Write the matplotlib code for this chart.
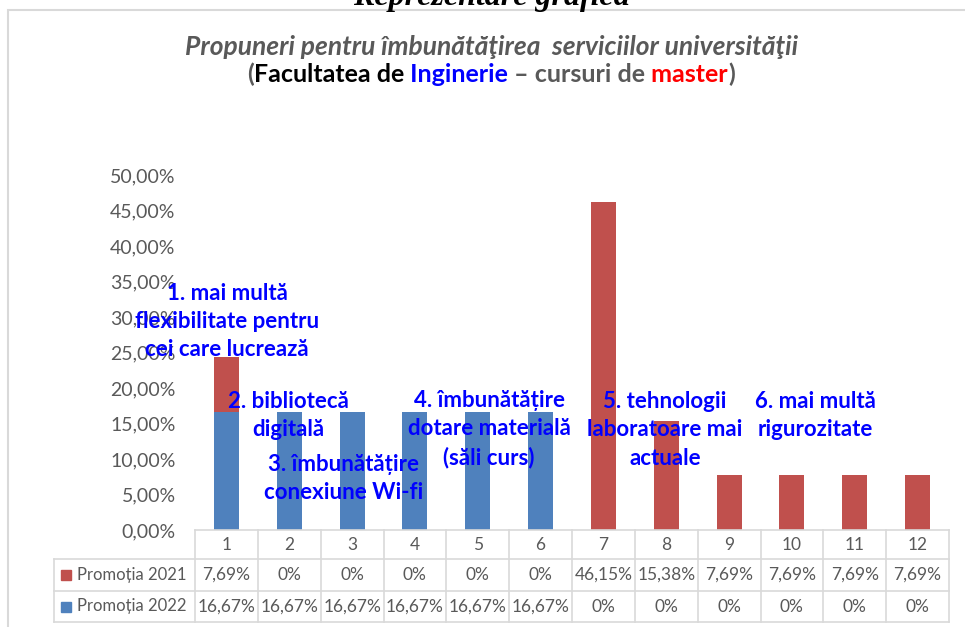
import numpy as np
import matplotlib
matplotlib.use('Agg')
import matplotlib.pyplot as plt
from matplotlib.patches import Rectangle
from matplotlib.transforms import blended_transform_factory

# ---- date ----
categories = ['1', '2', '3', '4', '5', '6', '7', '8', '9', '10', '11', '12']
prom_2021 = [7.69, 0, 0, 0, 0, 0, 46.15, 15.38, 7.69, 7.69, 7.69, 7.69]
prom_2022 = [16.67, 16.67, 16.67, 16.67, 16.67, 16.67, 0, 0, 0, 0, 0, 0]
series_names = ['Promoția 2021', 'Promoția 2022']
yticks = [0, 5, 10, 15, 20, 25, 30, 35, 40, 45, 50]

notes = [
    '1. mai multă\nflexibilitate pentru\ncei care lucrează',
    '2. bibliotecă\ndigitală',
    '3. îmbunătățire\nconexiune Wi-fi',
    '4. îmbunătățire\ndotare materială\n(săli curs)',
    '5. tehnologii\nlaboratoare mai\nactuale',
    '6. mai multă\nrigurozitate',
]
note_pos = [(0.01, 29.4), (0.98, 16.1), (1.87, 7.2), (4.18, 14.2), (6.98, 14.1), (9.37, 16.1)]

BLUE = '#4F81BD'
RED = '#C0504D'
GRAY = '#595959'
LINE = '#D9D9D9'

plt.rcParams['font.family'] = ['Lato', 'DejaVu Sans']

W, H = 965, 627
def fx(px): return px / W
def fy(py): return 1 - py / H

fig = plt.figure(figsize=(W / 100, H / 100), dpi=100)

# chenar grafic
fig.patches.append(Rectangle((fx(8), fy(640)), 1.2, fy(10) - fy(640), transform=fig.transFigure,
                             fill=False, edgecolor=LINE, lw=1.5))

ax = fig.add_axes([fx(195), fy(530), fx(949) - fx(195), fy(175) - fy(530)])
x = np.arange(len(categories))
ax.bar(x, prom_2022, width=0.4, color=BLUE, zorder=2)
ax.bar(x, prom_2021, width=0.4, bottom=prom_2022, color=RED, zorder=2)
ax.set_xlim(-0.5, len(categories) - 0.5)
ax.set_ylim(0, 50)
ax.set_yticks(yticks)
ax.set_yticklabels([f"{v:.2f}%".replace('.', ',') for v in yticks], color=GRAY, fontsize=14)
ax.set_xticks([])
ax.tick_params(axis='y', length=0, pad=14)
for s in ax.spines.values():
    s.set_visible(False)

# ---- tabel de date ----
tr = blended_transform_factory(ax.transData, ax.transAxes)
ax_h = 530 - 175
r = [0, -(559 - 530) / ax_h, -(591 - 530) / ax_h, -(622 - 530) / ax_h]
colw = (949 - 195) / len(categories)
x_left = -0.5 - (195 - 54) / colw
xr = len(categories) - 0.5
kw = dict(color=LINE, lw=1.2, transform=tr, clip_on=False)
ax.plot([-0.5, xr], [r[0], r[0]], **kw)
for yy in r[1:]:
    ax.plot([x_left, xr], [yy, yy], **kw)
for i in range(len(categories) + 1):
    ax.plot([i - 0.5, i - 0.5], [r[0], r[3]], **kw)
ax.plot([x_left, x_left], [r[1], r[3]], **kw)

def fmt(v):
    return '0%' if v == 0 else f"{v:.2f}%".replace('.', ',')

for i, c in enumerate(categories):
    ax.text(i, (r[0] + r[1]) / 2, c, transform=tr, ha='center', va='center', color=GRAY, fontsize=12.5)
    ax.text(i, (r[1] + r[2]) / 2, fmt(prom_2021[i]), transform=tr, ha='center', va='center', color=GRAY, fontsize=12.5)
    ax.text(i, (r[2] + r[3]) / 2, fmt(prom_2022[i]), transform=tr, ha='center', va='center', color=GRAY, fontsize=12.5)

for k, (name, col) in enumerate(zip(series_names, [RED, BLUE])):
    yc = (r[k + 1] + r[k + 2]) / 2
    ax.plot([-0.5 - (195 - 66) / colw], [yc], marker='s', ms=6.5, color=col, transform=tr, clip_on=False)
    ax.text(-0.5 - (195 - 77) / colw, yc, name, transform=tr, ha='left', va='center', color=GRAY, fontsize=12)

# ---- etichete ----
for txt, (px, py) in zip(notes, note_pos):
    ax.text(px, py, txt, ha='center', va='center', color='#0000FF', fontsize=16,
            fontweight='bold', linespacing=1.42, zorder=3)

# ---- titluri ----
fig.text(fx(491), fy(5), 'Reprezentare grafică', family=['Liberation Serif'], fontweight='bold',
         fontstyle='italic', fontsize=23, ha='center', va='baseline')
fig.text(fx(492), fy(55), 'Propuneri pentru îmbunătăţirea  serviciilor universităţii', color=GRAY,
         fontsize=19, fontweight='bold', fontstyle='italic', ha='center', va='baseline')

pieces = [('(', GRAY), ('Facultatea de', 'black'), (' Inginerie', '#0000FF'),
          (' – cursuri de', GRAY), (' master', '#FF0000'), (')', GRAY)]
renderer = fig.canvas.get_renderer()
texts = [fig.text(0, fy(82), s, color=c, fontsize=18, fontweight='bold', ha='left', va='baseline')
         for s, c in pieces]
widths = [t.get_window_extent(renderer).width for t in texts]
xpos = 491 - sum(widths) / 2
for t, w in zip(texts, widths):
    t.set_x(fx(xpos))
    xpos += w

fig.savefig('out.png', dpi=100)
